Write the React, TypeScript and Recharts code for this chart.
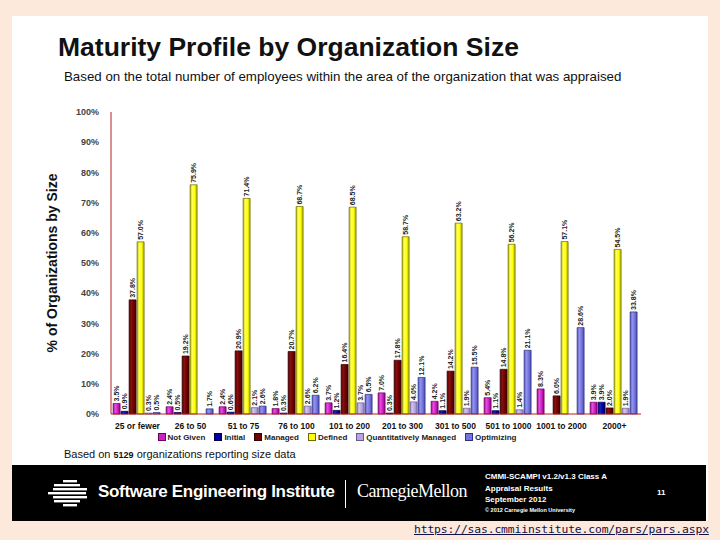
import { Bar, BarChart, Legend, LabelList, XAxis, YAxis, Label } from 'recharts';

const categories = [
  '25 or fewer',
  '26 to 50',
  '51 to 75',
  '76 to 100',
  '101 to 200',
  '201 to 300',
  '301 to 500',
  '501 to 1000',
  '1001 to 2000',
  '2000+',
];

const notGiven = [3.5, 2.4, 2.4, 1.8, 3.7, 7.0, 4.2, 5.4, 8.3, 3.9];
const initial = [0.9, 0.5, 0.6, 0.3, 1.2, 0.3, 1.1, 1.1, null, 3.9];
const managed = [37.8, 19.2, 20.9, 20.7, 16.4, 17.8, 14.2, 14.8, 6.0, 2.0];
const defined = [57.0, 75.9, 71.4, 68.7, 68.5, 58.7, 63.2, 56.2, 57.1, 54.5];
const quantManaged = [0.3, 0.0, 2.1, 2.6, 3.7, 4.0, 1.9, 1.4, null, 1.9];
const optimizing = [0.5, 1.7, 2.6, 6.2, 6.5, 12.1, 15.5, 21.1, 28.6, 33.8];

const yTicks = [0, 10, 20, 30, 40, 50, 60, 70, 80, 90, 100];

const data = categories.map((name, i) => ({
  name,
  notGiven: notGiven[i],
  initial: initial[i],
  managed: managed[i],
  defined: defined[i],
  quantManaged: quantManaged[i],
  optimizing: optimizing[i],
}));

const seriesSpecs = [
  { key: 'notGiven', label: 'Not Given', colors: ['#9a0090', '#e850e0', '#cc22c4', '#880080'], stroke: '#6a0060' },
  { key: 'initial', label: 'Initial', colors: ['#000070', '#2020c0', '#0000a0', '#000060'], stroke: '#000040' },
  { key: 'managed', label: 'Managed', colors: ['#4a0000', '#8a1010', '#700000', '#400000'], stroke: '#300000' },
  { key: 'defined', label: 'Defined', colors: ['#b8b800', '#ffff60', '#ffff00', '#a8a800'], stroke: '#6a6a00' },
  { key: 'quantManaged', label: 'Quantitatively Managed', colors: ['#9888c0', '#d4c4f0', '#b8a4e0', '#8c7cb8'], stroke: '#6a5a90' },
  { key: 'optimizing', label: 'Optimizing', colors: ['#5050b8', '#9494f0', '#7474e0', '#4848a8'], stroke: '#303080' },
];

const font = '"Liberation Sans", Arial, sans-serif';

const renderValue = (props: any) => {
  const { x, y, width, value } = props;
  if (value === null || value === undefined) return null;
  const cx = x + width / 2 + 2.4;
  const ty = y - 2;
  return (
    <text
      x={cx}
      y={ty}
      transform={`rotate(-90 ${cx} ${ty})`}
      fontSize={7}
      fontWeight="bold"
      fontFamily={font}
      fill="#222"
      textAnchor="start"
    >
      {Number(value).toFixed(1)}%
    </text>
  );
};

const renderLegend = () => (
  <div
    style={{
      display: 'flex',
      justifyContent: 'center',
      alignItems: 'center',
      height: 14,
      fontFamily: font,
      fontSize: 8,
      fontWeight: 'bold',
      color: '#222',
      paddingRight: 46,
    }}
  >
    {seriesSpecs.map((s, i) => (
      <span
        key={s.key}
        style={{ display: 'flex', alignItems: 'center', marginRight: i === seriesSpecs.length - 1 ? 0 : 9 }}
      >
        <span
          style={{
            display: 'inline-block',
            width: 6,
            height: 6,
            background: s.colors[2],
            border: `1px solid ${s.stroke}`,
            marginRight: 2,
          }}
        />
        {s.label}
      </span>
    ))}
  </div>
);

function MaturityChart() {
  return (
    <BarChart
      width={720}
      height={470}
      data={data}
      margin={{ top: 112, right: 79, left: 0, bottom: 26 }}
      barCategoryGap="4%"
      barGap={1}
    >
      <defs>
        {seriesSpecs.map((s) => (
          <linearGradient key={s.key} id={`grad-${s.key}`} x1="0" y1="0" x2="1" y2="0">
            <stop offset="0%" stopColor={s.colors[0]} />
            <stop offset="30%" stopColor={s.colors[1]} />
            <stop offset="65%" stopColor={s.colors[2]} />
            <stop offset="100%" stopColor={s.colors[3]} />
          </linearGradient>
        ))}
      </defs>
      <XAxis
        dataKey="name"
        height={16}
        axisLine={{ stroke: '#b02020' }}
        tickLine={false}
        interval={0}
        tick={{ fontSize: 8.5, fontWeight: 'bold', fill: '#111', fontFamily: font }}
        tickMargin={3}
      />
      <YAxis
        width={111}
        domain={[0, 100]}
        ticks={yTicks}
        tickFormatter={(v: number) => `${v}%`}
        axisLine={{ stroke: '#b02020' }}
        tickLine={false}
        tickMargin={6}
        tick={{ fontSize: 9, fontWeight: 'bold', fill: '#444', fontFamily: font }}
      >
        <Label
          value="% of Organizations by Size"
          angle={-90}
          position="center"
          dx={-3}
          style={{ fontSize: 14, fontWeight: 'bold', fill: '#111', fontFamily: font }}
        />
      </YAxis>
      <Legend
        verticalAlign="bottom"
        content={renderLegend}
        wrapperStyle={{ position: 'absolute', top: 430, left: 0, width: 720 }}
      />
      {seriesSpecs.map((s) => (
        <Bar
          key={s.key}
          dataKey={s.key}
          name={s.label}
          fill={`url(#grad-${s.key})`}
          stroke={s.stroke}
          strokeWidth={0.7}
          isAnimationActive={false}
        >
          <LabelList dataKey={s.key} content={renderValue} />
        </Bar>
      ))}
    </BarChart>
  );
}

function SeiLogo() {
  const rows = [2, 6, 10, 14, 18, 22, 26];
  const widths = [14, 26, 34, 38, 34, 26, 14];
  return (
    <svg width={44} height={30} style={{ position: 'absolute', left: 48, top: 478 }}>
      {rows.map((y, i) => (
        <rect key={y} x={22 - widths[i] / 2 - (i % 2 ? 3 : 0)} y={y} width={widths[i]} height={2.4} fill="#fff" />
      ))}
    </svg>
  );
}

export default function App() {
  return (
    <div
      style={{
        position: 'absolute',
        left: 0,
        top: 0,
        width: 720,
        height: 540,
        background: '#fde9dc',
        overflow: 'hidden',
        fontFamily: font,
      }}
    >
      <div style={{ position: 'absolute', left: 12, top: 16, width: 696, height: 505, background: '#fff' }} />
      <div
        style={{
          position: 'absolute',
          left: 58,
          top: 34,
          fontSize: 26.5,
          lineHeight: '26.5px',
          fontWeight: 'bold',
          color: '#111',
          whiteSpace: 'nowrap',
        }}
      >
        Maturity Profile by Organization Size
      </div>
      <div
        style={{
          position: 'absolute',
          left: 64,
          top: 70,
          fontSize: 13.3,
          lineHeight: '13.3px',
          color: '#111',
          whiteSpace: 'nowrap',
        }}
      >
        Based on the total number of employees within the area of the organization that was appraised
      </div>
      <div style={{ position: 'absolute', left: 0, top: 0 }}>
        <MaturityChart />
      </div>
      <div
        style={{
          position: 'absolute',
          left: 64,
          top: 449,
          fontSize: 11,
          lineHeight: '11px',
          color: '#111',
          whiteSpace: 'nowrap',
        }}
      >
        Based on <span style={{ fontSize: 9, fontWeight: 'bold' }}>5129</span> organizations reporting size data
      </div>
      <div style={{ position: 'absolute', left: 12, top: 465, width: 694, height: 56, background: '#000' }} />
      <SeiLogo />
      <div
        style={{
          position: 'absolute',
          left: 98,
          top: 483,
          fontSize: 17,
          lineHeight: '17px',
          fontWeight: 'bold',
          color: '#fff',
          whiteSpace: 'nowrap',
          letterSpacing: -0.3,
        }}
      >
        Software Engineering Institute
      </div>
      <div style={{ position: 'absolute', left: 345, top: 480, width: 1, height: 28, background: '#fff' }} />
      <div
        style={{
          position: 'absolute',
          left: 357,
          top: 482,
          fontSize: 18,
          lineHeight: '18px',
          fontFamily: '"Liberation Serif", "Times New Roman", serif',
          color: '#fff',
          whiteSpace: 'nowrap',
          letterSpacing: -0.5,
        }}
      >
        CarnegieMellon
      </div>
      <div
        style={{
          position: 'absolute',
          left: 485,
          top: 471,
          fontSize: 8,
          lineHeight: '11.5px',
          fontWeight: 'bold',
          color: '#fff',
          whiteSpace: 'nowrap',
        }}
      >
        <div>CMMI-SCAMPI v1.2/v1.3 Class A</div>
        <div>Appraisal Results</div>
        <div>September 2012</div>
        <div style={{ fontSize: 5.5, lineHeight: '9px' }}>© 2012 Carnegie Mellon University</div>
      </div>
      <div
        style={{
          position: 'absolute',
          left: 657,
          top: 488,
          fontSize: 8,
          fontWeight: 'bold',
          color: '#fff',
        }}
      >
        11
      </div>
      <div
        style={{
          position: 'absolute',
          left: 414,
          top: 523,
          fontSize: 11.3,
          lineHeight: '14px',
          fontFamily: '"DejaVu Sans Mono", monospace',
          color: '#10104a',
          textDecoration: 'underline',
          whiteSpace: 'nowrap',
          letterSpacing: -0.1,
        }}
      >
        https://sas.cmmiinstitute.com/pars/pars.aspx
      </div>
    </div>
  );
}
